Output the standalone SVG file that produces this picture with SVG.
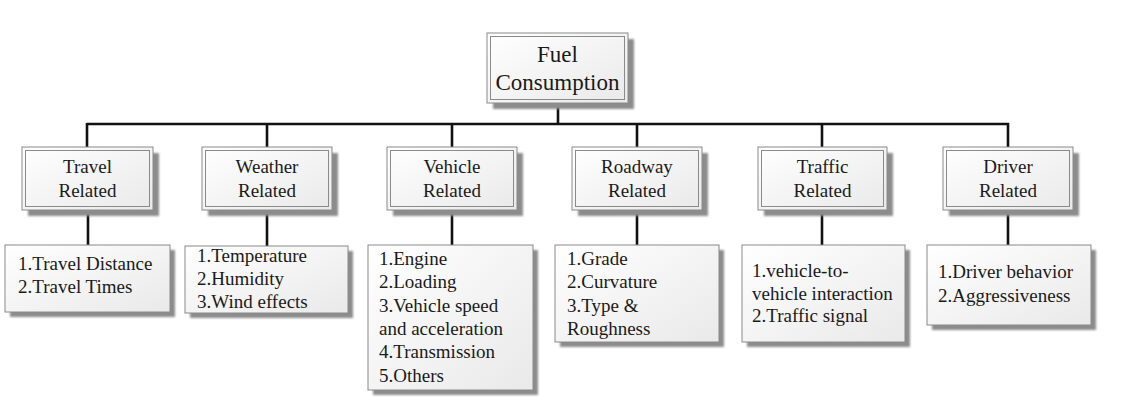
<svg xmlns="http://www.w3.org/2000/svg" width="1122" height="411" viewBox="0 0 1122 411">
<defs>
<linearGradient id="g" x1="0" y1="0" x2="1" y2="1">
<stop offset="0" stop-color="#ffffff"/>
<stop offset="1" stop-color="#e9e9e9"/>
</linearGradient>
<filter id="blur" x="-10%" y="-10%" width="120%" height="120%">
<feGaussianBlur stdDeviation="1.2"/>
</filter>
</defs>
<style>
.sh{fill:#8c8c8c;filter:url(#blur)}
.box{fill:url(#g);stroke:#8a8a8a;stroke-width:1}
.inner{fill:none;stroke:#8a8a8a;stroke-width:1}
.t{font-family:"Liberation Serif","Times New Roman",serif;font-size:19px;fill:#1a1a1a}
.c{text-anchor:middle}
.root{font-size:23px}
.ln{stroke:#111;stroke-width:2.6;fill:none}
</style>
<rect width="1122" height="411" fill="#ffffff"/>
<g id="connectors">
<path class="ln" d="M558 103V124M87 124H1009M87 123V147M267 123V147M452 123V147M637 123V147M822 123V147M1008 123V147"/>
<path class="ln" d="M88 210V245M267 210V246M452 210V245M637 210V245M822 210V245M1008 210V245"/>
</g>
<g id="root">
<rect class="sh" x="493" y="39" width="141" height="70"/>
<rect class="box" x="487" y="33" width="141" height="70"/>
<rect class="inner" x="490.5" y="36.5" width="134" height="63"/>
<text class="t c root" x="557.5" y="62">Fuel</text>
<text class="t c root" x="557.5" y="90">Consumption</text>
</g>
<g id="travel">
<rect class="sh" x="28" y="153" width="131" height="63"/>
<rect class="box" x="22" y="147" width="131" height="63"/>
<rect class="inner" x="25.5" y="150.5" width="124" height="56"/>
<text class="t c" x="87.5" y="173">Travel</text>
<text class="t c" x="87.5" y="197">Related</text>
</g>
<g id="weather">
<rect class="sh" x="208" y="153" width="130" height="63"/>
<rect class="box" x="202" y="147" width="130" height="63"/>
<rect class="inner" x="205.5" y="150.5" width="123" height="56"/>
<text class="t c" x="267" y="173">Weather</text>
<text class="t c" x="267" y="197">Related</text>
</g>
<g id="vehicle">
<rect class="sh" x="393" y="153" width="130" height="63"/>
<rect class="box" x="387" y="147" width="130" height="63"/>
<rect class="inner" x="390.5" y="150.5" width="123" height="56"/>
<text class="t c" x="452" y="173">Vehicle</text>
<text class="t c" x="452" y="197">Related</text>
</g>
<g id="roadway">
<rect class="sh" x="578" y="153" width="130" height="63"/>
<rect class="box" x="572" y="147" width="130" height="63"/>
<rect class="inner" x="575.5" y="150.5" width="123" height="56"/>
<text class="t c" x="637" y="173">Roadway</text>
<text class="t c" x="637" y="197">Related</text>
</g>
<g id="traffic">
<rect class="sh" x="764" y="153" width="129" height="63"/>
<rect class="box" x="758" y="147" width="129" height="63"/>
<rect class="inner" x="761.5" y="150.5" width="122" height="56"/>
<text class="t c" x="822.5" y="173">Traffic</text>
<text class="t c" x="822.5" y="197">Related</text>
</g>
<g id="driver">
<rect class="sh" x="949" y="153" width="130" height="63"/>
<rect class="box" x="943" y="147" width="130" height="63"/>
<rect class="inner" x="946.5" y="150.5" width="123" height="56"/>
<text class="t c" x="1008" y="173">Driver</text>
<text class="t c" x="1008" y="197">Related</text>
</g>
<g id="travel-items">
<rect class="sh" x="10" y="250" width="165" height="67"/>
<rect class="box" x="5" y="245" width="165" height="67"/>
<text class="t" x="18" y="270">1.Travel Distance</text>
<text class="t" x="18" y="293">2.Travel Times</text>
</g>
<g id="weather-items">
<rect class="sh" x="190" y="251" width="163" height="67"/>
<rect class="box" x="185" y="246" width="163" height="67"/>
<text class="t" x="197" y="262">1.Temperature</text>
<text class="t" x="197" y="285">2.Humidity</text>
<text class="t" x="197" y="308">3.Wind effects</text>
</g>
<g id="vehicle-items">
<rect class="sh" x="373" y="250" width="165" height="145"/>
<rect class="box" x="368" y="245" width="165" height="145"/>
<text class="t" x="379" y="265">1.Engine</text>
<text class="t" x="379" y="288">2.Loading</text>
<text class="t" x="379" y="312">3.Vehicle speed</text>
<text class="t" x="379" y="335">and acceleration</text>
<text class="t" x="379" y="358">4.Transmission</text>
<text class="t" x="379" y="382">5.Others</text>
</g>
<g id="roadway-items">
<rect class="sh" x="560" y="250" width="164" height="97"/>
<rect class="box" x="555" y="245" width="164" height="97"/>
<text class="t" x="567" y="265">1.Grade</text>
<text class="t" x="567" y="288">2.Curvature</text>
<text class="t" x="567" y="312">3.Type &amp;</text>
<text class="t" x="567" y="335">Roughness</text>
</g>
<g id="traffic-items">
<rect class="sh" x="747" y="250" width="163" height="97"/>
<rect class="box" x="742" y="245" width="163" height="97"/>
<text class="t" x="752" y="277">1.vehicle-to-</text>
<text class="t" x="752" y="300">vehicle interaction</text>
<text class="t" x="752" y="322">2.Traffic signal</text>
</g>
<g id="driver-items">
<rect class="sh" x="932" y="250" width="164" height="80"/>
<rect class="box" x="927" y="245" width="164" height="80"/>
<text class="t" x="938" y="278">1.Driver behavior</text>
<text class="t" x="938" y="302">2.Aggressiveness</text>
</g>
</svg>
